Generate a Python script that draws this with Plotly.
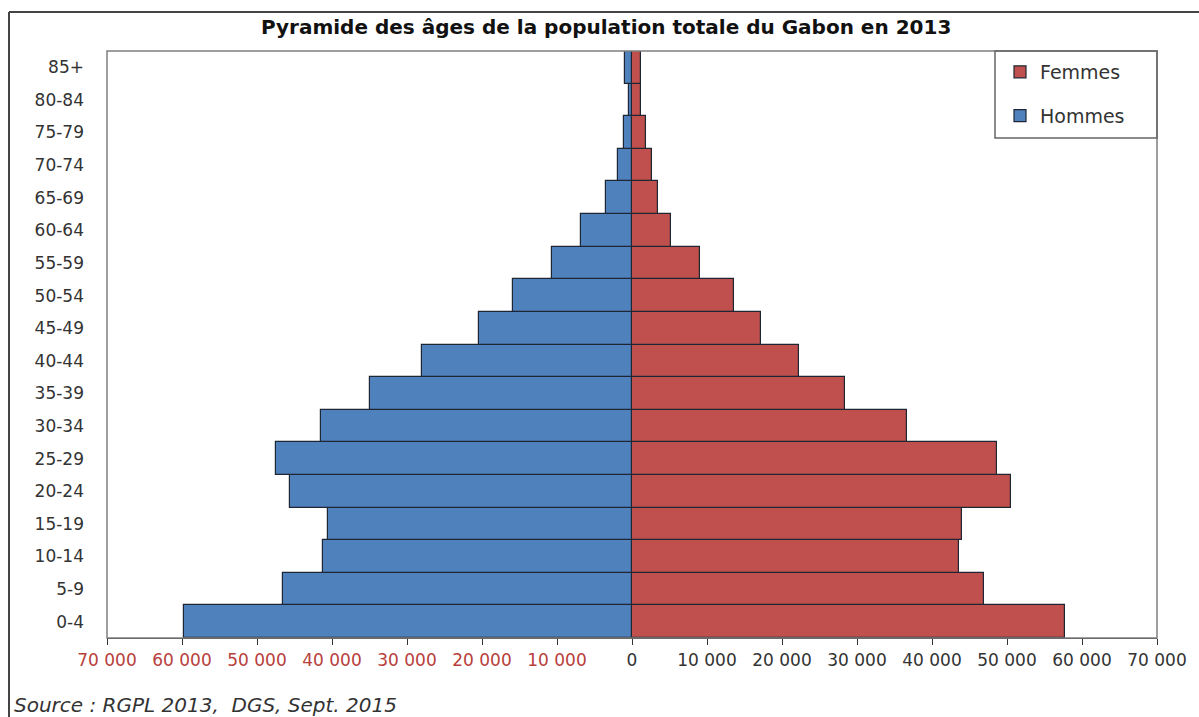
import plotly.graph_objects as go

age_groups = ["0-4", "5-9", "10-14", "15-19", "20-24", "25-29", "30-34", "35-39",
              "40-44", "45-49", "50-54", "55-59", "60-64", "65-69", "70-74",
              "75-79", "80-84", "85+"]
hommes = [59690, 46510, 41180, 40480, 45580, 47480, 41410, 34930, 28040,
          20450, 15840, 10730, 6740, 3420, 1900, 1060, 440, 880]
femmes = [57740, 46870, 43620, 44020, 50510, 48600, 36620, 28400, 22320,
          17220, 13580, 9000, 5190, 3460, 2700, 1900, 1200, 1150]
tick_values = [-70000, -60000, -50000, -40000, -30000, -20000, -10000, 0,
               10000, 20000, 30000, 40000, 50000, 60000, 70000]

title_text = "Pyramide des âges de la population totale du Gabon en 2013"
source_text = "Source : RGPL 2013,  DGS, Sept. 2015"

FONT = "DejaVu Sans"
BLUE = "#4f81bd"
RED = "#c0504d"
EDGE = "#1e2633"
NEG_COL = "#b8403c"
POS_COL = "#333333"


def fmt(v):
    return f"{abs(v):,}".replace(",", " ")


tick_text = []
for v in tick_values:
    col = NEG_COL if v < 0 else POS_COL
    tick_text.append(f'<span style="color:{col}">{fmt(v)}</span>')

fig = go.Figure()
fig.add_trace(go.Bar(
    y=age_groups, x=femmes, orientation="h", name="Femmes",
    marker=dict(color=RED, line=dict(color=EDGE, width=1.2)),
    legendgroup="f",
))
fig.add_trace(go.Bar(
    y=age_groups, x=[-v for v in hommes], orientation="h", name="Hommes",
    customdata=hommes, hovertemplate="%{y}: %{customdata}<extra>Hommes</extra>",
    marker=dict(color=BLUE, line=dict(color=EDGE, width=1.2)),
    legendgroup="h",
))

W, H = 1199, 717
ml, mr, mt, mb = 107, 42, 51, 79
pw = W - ml - mr
ph = H - mt - mb


def px_x(x):
    return (x - ml) / pw


def px_y(y):
    return 1 - (y - mt) / ph


fig.update_layout(
    width=W, height=H,
    margin=dict(l=ml, r=mr, t=mt, b=mb),
    paper_bgcolor="white", plot_bgcolor="white",
    barmode="relative", bargap=0,
    font=dict(family=FONT, size=17, color="#333333"),
    showlegend=True,
    legend=dict(
        x=px_x(1000), y=px_y(53), xanchor="left", yanchor="top",
        bgcolor="rgba(0,0,0,0)", borderwidth=0,
        font=dict(family=FONT, size=19, color="#333333"),
        tracegroupgap=16, itemwidth=30, traceorder="grouped",
    ),
    xaxis=dict(
        range=[-70000, 70000], tickvals=tick_values, ticktext=tick_text,
        showgrid=False, zeroline=False,
        showline=True, linecolor="#333333", linewidth=1.2,
        ticks="outside", ticklen=6, tickcolor="#333333", tickwidth=1.2,
        tickfont=dict(family=FONT, size=17),
        fixedrange=True,
    ),
    yaxis=dict(
        type="category", categoryorder="array", categoryarray=age_groups,
        showgrid=False, zeroline=False, showline=False, ticks="",
        ticklabelstandoff=22,
        tickfont=dict(family=FONT, size=17, color="#333333"),
        fixedrange=True,
    ),
    shapes=[
        dict(type="rect", xref="paper", yref="paper", x0=0, x1=1, y0=0, y1=1,
             line=dict(color="#7f7f7f", width=1.5), layer="above"),
        dict(type="rect", xref="paper", yref="paper",
             x0=px_x(995), x1=1, y0=px_y(138), y1=1,
             line=dict(color="#666666", width=1.5), fillcolor="rgba(0,0,0,0)",
             layer="above"),
        dict(type="line", xref="paper", yref="paper",
             x0=px_x(9), x1=px_x(9), y0=px_y(12), y1=px_y(730),
             line=dict(color="#444444", width=2)),
        dict(type="line", xref="paper", yref="paper",
             x0=px_x(9), x1=px_x(1210), y0=px_y(12), y1=px_y(12),
             line=dict(color="#444444", width=2)),
    ],
    annotations=[
        dict(text=f"<b>{title_text}</b>", xref="paper", yref="paper",
             x=px_x(606), y=px_y(27), xanchor="center", yanchor="middle",
             showarrow=False, font=dict(family=FONT, size=20, color="#111111")),
        dict(text=f"<i>{source_text}</i>", xref="paper", yref="paper",
             x=px_x(12), y=px_y(705), xanchor="left", yanchor="middle",
             showarrow=False, font=dict(family=FONT, size=20, color="#333333")),
    ],
)

fig.write_html(
    "out.html",
    config={"displayModeBar": False},
    post_script="document.body.style.margin='0';document.body.style.overflow='hidden';",
)
